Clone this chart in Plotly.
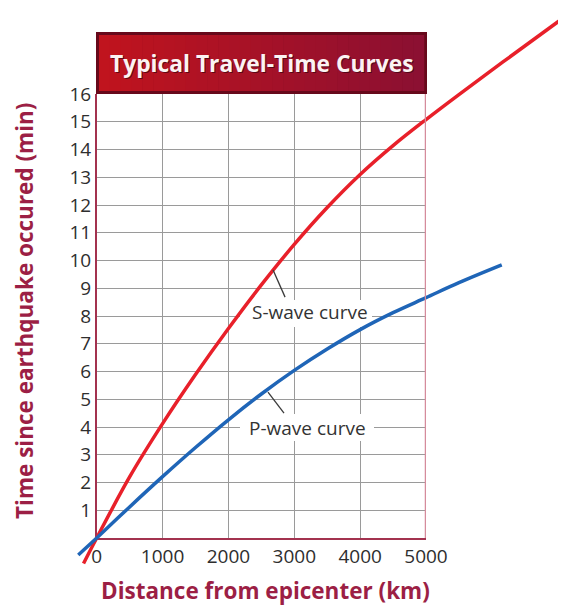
import plotly.graph_objects as go

# ---------------- data ----------------
s_distance_km = [-200, 0, 500, 1000, 1500, 2000, 2500, 3000, 3500, 4000, 4500, 5000, 5500, 6000, 6500, 7130]
s_time_min = [-0.92, 0, 2.2, 4.12, 5.89, 7.55, 9.12, 10.58, 11.91, 13.1, 14.14, 15.08, 15.98, 16.86, 17.73, 18.82]

p_distance_km = [-280, 0, 500, 1000, 1500, 2000, 2500, 3000, 3500, 4000, 4500, 5000, 5500, 6150]
p_time_min = [-0.61, 0, 1.12, 2.21, 3.26, 4.26, 5.19, 6.04, 6.81, 7.51, 8.12, 8.66, 9.2, 9.84]

x_ticks = [0, 1000, 2000, 3000, 4000, 5000]
y_ticks = list(range(1, 17))

title_text = "Typical Travel-Time Curves"
x_title = "Distance from epicenter (km)"
y_title = "Time since earthquake occured (min)"
s_label = "S-wave curve"
p_label = "P-wave curve"
s_label_pos = (3239, 8.14)
p_label_pos = (3207, 3.96)
s_leader = [(2678, 9.66), (2860, 8.68)]
p_leader = [(2601, 5.26), (2844, 4.5)]

# ---------------- layout geometry (page pixels) ----------------
OFF = 8                  # default page body margin
W, H = 550, 598          # figure size so that it fits the 566x614 window
PX0, PX1 = 96.7, 426.0   # x = 0 and x = 5000
PY0, PY1 = 538.0, 94.0   # y = 0 and y = 16
XMAX, YMAX = 5000, 16


def fx(px):
    return (px - OFF) / W


def fy(py):
    return 1 - (py - OFF) / H


kx = XMAX / (PX1 - PX0)
ky = YMAX / (PY0 - PY1)
x2_range = [(OFF - PX0) * kx, (OFF + W - PX0) * kx]
y2_range = [(PY0 - (OFF + H)) * ky, (PY0 - OFF) * ky]


def dx(px):
    return (px - PX0) * kx


def dy(py):
    return (PY0 - py) * ky


TICK_FONT = dict(family="Open Sans, sans-serif", size=19, color="#2e2e2e")
BOLD = "Open Sans, sans-serif"
CRIMSON = "#9c1f45"

fig = go.Figure()

fig.add_trace(go.Scatter(x=[0, XMAX], y=[0, YMAX], mode="markers",
                         marker=dict(opacity=0), hoverinfo="skip", showlegend=False,
                         xaxis="x", yaxis="y"))

fig.add_trace(go.Scatter(x=s_distance_km, y=s_time_min, mode="lines",
                         line=dict(color="#e8202a", width=3.5, shape="spline", smoothing=1.0),
                         showlegend=False, xaxis="x2", yaxis="y2"))
fig.add_trace(go.Scatter(x=p_distance_km, y=p_time_min, mode="lines",
                         line=dict(color="#1f65b7", width=3.5, shape="spline", smoothing=1.0),
                         showlegend=False, xaxis="x2", yaxis="y2"))

shapes = []
# white patches behind the curve labels (between gridlines and traces)
for (x0p, x1p, y0p, y1p) in ((240, 372, 300, 327), (240, 374, 414, 441)):
    shapes.append(dict(type="rect", xref="x", yref="y", x0=dx(x0p), x1=dx(x1p),
                       y0=dy(y1p), y1=dy(y0p), fillcolor="white", line=dict(width=0),
                       layer="between"))

bx0, bx1, by0, by1 = 96.0, 427.0, 32.0, 94.0
shapes.append(dict(type="rect", xref="paper", yref="paper", x0=fx(bx0), x1=fx(bx1),
                   y0=fy(by1), y1=fy(by0), fillcolor="#5e0818", line=dict(width=0), layer="above"))
c_left = (192, 20, 30)
c_right = (140, 16, 50)
n = 30
ins = 3.0
for i in range(n):
    t = i / (n - 1)
    c = tuple(int(c_left[k] + (c_right[k] - c_left[k]) * t) for k in range(3))
    xa = bx0 + ins + (bx1 - bx0 - 2 * ins) * i / n
    xb = bx0 + ins + (bx1 - bx0 - 2 * ins) * (i + 1) / n
    shapes.append(dict(type="rect", xref="paper", yref="paper", x0=fx(xa), x1=fx(xb) + 0.001,
                       y0=fy(by1 - ins), y1=fy(by0 + ins),
                       fillcolor="rgb(%d,%d,%d)" % c, line=dict(width=0), layer="above"))
shapes.append(dict(type="rect", xref="paper", yref="paper", x0=fx(bx0 + 1.5), x1=fx(bx1 - 1.5),
                   y0=fy(by1 - 1.5), y1=fy(by0 + 1.5), fillcolor="rgba(0,0,0,0)",
                   line=dict(width=3, color="rgba(110,10,30,0.6)"), layer="above"))

shapes.append(dict(type="line", xref="x", yref="y", x0=XMAX, x1=XMAX, y0=0, y1=YMAX,
                   line=dict(color="#d58c9c", width=2.5), layer="above"))

for (a, b) in (s_leader, p_leader):
    shapes.append(dict(type="line", xref="x", yref="y", x0=a[0], y0=a[1], x1=b[0], y1=b[1],
                       line=dict(color="#3a3a3a", width=1.3), layer="above"))

annotations = [
    dict(text=title_text, xref="paper", yref="paper", x=fx(261.5), y=fy(63.5),
         showarrow=False, font=dict(family=BOLD, size=22.8, color="rgba(40,0,10,0.6)", weight="bold"),
         xanchor="center", yanchor="middle", xshift=1, yshift=-1),
    dict(text=title_text, xref="paper", yref="paper", x=fx(261.5), y=fy(63.5),
         showarrow=False, font=dict(family=BOLD, size=22.8, color="#fbf3f3", weight="bold"),
         xanchor="center", yanchor="middle"),
    dict(text=x_title, xref="paper", yref="paper", x=fx(265.5), y=fy(590.5),
         showarrow=False, font=dict(family=BOLD, size=22.5, color=CRIMSON, weight="bold"),
         xanchor="center", yanchor="middle"),
    dict(text=y_title, xref="paper", yref="paper", x=fx(24), y=fy(311), textangle=-90,
         showarrow=False, font=dict(family=BOLD, size=22.5, color=CRIMSON, weight="bold"),
         xanchor="center", yanchor="middle"),
    dict(text=s_label, xref="x", yref="y", x=s_label_pos[0], y=s_label_pos[1], showarrow=False,
         font=dict(family="Open Sans, sans-serif", size=19, color="#333333")),
    dict(text=p_label, xref="x", yref="y", x=p_label_pos[0], y=p_label_pos[1], showarrow=False,
         font=dict(family="Open Sans, sans-serif", size=19, color="#333333")),
]

fig.update_layout(
    width=W, height=H, autosize=False,
    margin=dict(l=0, r=0, t=0, b=0, pad=0),
    paper_bgcolor="white", plot_bgcolor="rgba(0,0,0,0)",
    showlegend=False,
    xaxis=dict(domain=[fx(PX0), fx(PX1)], range=[0, XMAX], tickvals=x_ticks,
               ticktext=[str(v) for v in x_ticks], showgrid=True, gridcolor="#9a9a9a", gridwidth=1,
               zeroline=False, showline=True, linecolor="#a3324f", linewidth=1.5,
               ticks="", tickfont=TICK_FONT, anchor="y", fixedrange=True, automargin=False),
    yaxis=dict(domain=[fy(PY0), fy(PY1)], range=[0, YMAX], tickvals=y_ticks,
               ticktext=[str(v) for v in y_ticks], showgrid=True, gridcolor="#9a9a9a", gridwidth=1,
               zeroline=False, showline=True, linecolor="#a3324f", linewidth=1.5,
               ticks="", tickfont=TICK_FONT, anchor="x", fixedrange=True, automargin=False),
    xaxis2=dict(domain=[0, 1], range=x2_range, visible=False, anchor="y2", fixedrange=True,
                automargin=False),
    yaxis2=dict(domain=[0, 1], range=y2_range, visible=False, anchor="x2", fixedrange=True,
                automargin=False),
    shapes=shapes,
    annotations=annotations,
)

fig.write_html("out.html")
